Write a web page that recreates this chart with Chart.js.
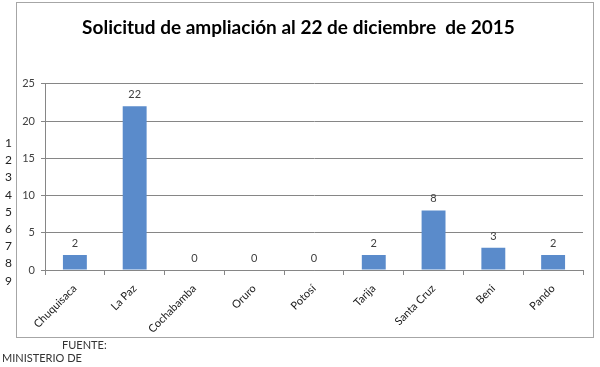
<!DOCTYPE html>
<html>
<head>
<meta charset="utf-8">
<script src="https://cdn.jsdelivr.net/npm/chart.js@4/dist/chart.umd.min.js"></script>
<style>
  html, body { margin: 0; padding: 0; background: #fff; }
  #wrap { position: relative; width: 600px; height: 367px; overflow: hidden; font-family: Lato, "Open Sans", sans-serif; }
  #frame { position: absolute; left: 16px; top: 2px; width: 578px; height: 336px; border: 1px solid #a6a6a6; box-sizing: border-box; }
  canvas { position: absolute; left: 0; top: 0; }
  .side { position: absolute; left: 5px; font-size: 12px; color: #222; line-height: 12px; }
  .note { position: absolute; font-size: 11px; color: #333; }
</style>
</head>
<body>
<div id="wrap">
  <div id="frame"></div>
  <canvas id="chart" width="600" height="367"></canvas>
  <div id="sideNums"></div>
  <div class="note" style="left:62px; top:338px;">FUENTE:</div>
  <div class="note" style="left:2px; top:351px;">MINISTERIO DE</div>
</div>
<script>
const departamentos = ['Chuquisaca', 'La Paz', 'Cochabamba', 'Oruro', 'Potosí', 'Tarija', 'Santa Cruz', 'Beni', 'Pando'];
const solicitudes = [2, 22, 0, 0, 0, 2, 8, 3, 2];
const yTicks = [0, 5, 10, 15, 20, 25];
const sideLabels = ['1', '2', '3', '4', '5', '6', '7', '8', '9'];

// stray numbered list on the left edge
const side = document.getElementById('sideNums');
sideLabels.forEach((t, i) => {
  const d = document.createElement('div');
  d.className = 'side';
  d.style.top = (137 + i * 17.2) + 'px';
  d.textContent = t;
  side.appendChild(d);
});

// value labels above each bar
const valueLabels = {
  id: 'valueLabels',
  afterDatasetsDraw(chart) {
    const ctx = chart.ctx;
    const meta = chart.getDatasetMeta(0);
    ctx.save();
    ctx.font = '11px Lato, "Open Sans", sans-serif';
    ctx.fillStyle = '#404040';
    ctx.textAlign = 'center';
    ctx.textBaseline = 'bottom';
    meta.data.forEach((bar, i) => {
      ctx.fillText(String(solicitudes[i]), bar.x, bar.y - 6);
    });
    ctx.restore();
  }
};

const ctx = document.getElementById('chart').getContext('2d');
new Chart(ctx, {
  type: 'bar',
  data: {
    labels: departamentos,
    datasets: [{
      label: 'Solicitudes',
      data: solicitudes,
      backgroundColor: '#5a8bcb',
      borderWidth: 0,
      categoryPercentage: 1,
      barPercentage: 0.4
    }]
  },
  options: {
    responsive: false,
    animation: false,
    layout: { padding: { left: 14, right: 17, top: 3, bottom: 28 } },
    plugins: {
      legend: { display: false },
      tooltip: { enabled: false },
      title: {
        display: true,
        text: 'Solicitud de ampliación al 22 de diciembre  de 2015',
        color: '#000',
        font: { family: 'Lato, "Open Sans", sans-serif', size: 19, weight: 'bold' },
        padding: { top: 13, bottom: 45 }
      }
    },
    scales: {
      x: {
        grid: { display: true, drawOnChartArea: false, drawTicks: true, tickLength: 5, color: '#868686', offset: true },
        border: { color: '#868686' },
        ticks: {
          color: '#1a1a1a',
          font: { family: 'Lato, "Open Sans", sans-serif', size: 11 },
          minRotation: 45,
          maxRotation: 45,
          autoSkip: false,
          padding: 7
        },
        afterFit(scale) { scale.height = 69; }
      },
      y: {
        min: 0,
        max: 25,
        afterBuildTicks(scale) { scale.ticks = yTicks.map(v => ({ value: v })); },
        grid: { color: '#868686', tickLength: 4 },
        border: { color: '#868686' },
        ticks: {
          color: '#404040',
          font: { family: 'Lato, "Open Sans", sans-serif', size: 11 },
          padding: 6
        },
        afterFit(scale) { scale.width = 31; }
      }
    }
  },
  plugins: [valueLabels]
});
</script>
</body>
</html>
